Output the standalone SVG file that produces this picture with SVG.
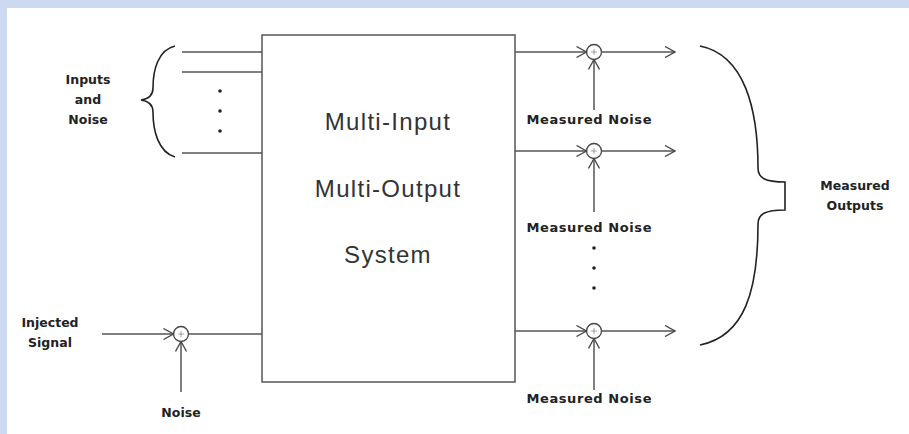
<svg xmlns="http://www.w3.org/2000/svg" width="909" height="434" viewBox="0 0 909 434">
<defs>
<style>
.ln{stroke:#555;stroke-width:1.5;fill:none}
.br{stroke:#222;stroke-width:1.6;fill:none}
.sum{stroke:#444;stroke-width:1.3;fill:#fff}
.plus{stroke:#888;stroke-width:0.8}
.lbl{font-family:"DejaVu Sans",Verdana,sans-serif;font-weight:bold;font-size:12.5px;fill:#222;text-anchor:middle}
.mn{font-size:13px}
.big{font-family:"Liberation Sans",Arial,sans-serif;font-size:24px;fill:#333;text-anchor:middle;letter-spacing:1.3px}
</style>
<marker id="ah" viewBox="0 0 12 12" refX="11" refY="6" markerWidth="12" markerHeight="12" markerUnits="userSpaceOnUse" orient="auto">
<path d="M1,0.5 L11,6 L1,11.5" fill="none" stroke="#444" stroke-width="1.3"/>
</marker>
</defs>
<rect width="909" height="434" fill="#cdd9f0"/>
<rect x="7" y="8" width="902" height="426" fill="#fff"/>

<g id="system">
<rect x="262" y="35" width="253" height="347" fill="#fff" stroke="#555" stroke-width="1.5"/>
<text class="big" x="388" y="130">Multi-Input</text>
<text class="big" x="388" y="197">Multi-Output</text>
<text class="big" x="388" y="263">System</text>
</g>

<g id="inputs">
<path class="br" d="M175,46 C158,50 153,70 153,88 C153,96 148,99 141,100 C148,101 153,104 153,112 C153,130 158,152 175,157"/>
<text class="lbl" x="88" y="84">Inputs</text>
<text class="lbl" x="88" y="104">and</text>
<text class="lbl" x="88" y="124">Noise</text>
<circle cx="220" cy="91" r="1.8" fill="#222"/>
<circle cx="220" cy="111" r="1.8" fill="#222"/>
<circle cx="220" cy="131" r="1.8" fill="#222"/>
</g>

<g id="injected">
<text class="lbl" x="50" y="327">Injected</text>
<text class="lbl" x="50" y="347">Signal</text>
<circle class="sum" cx="181" cy="334" r="7.5"/>
<path class="plus" d="M178,334 H184 M181,331 V337"/>
<text class="lbl" x="181" y="417">Noise</text>
</g>

<g id="sum1">
<circle class="sum" cx="594" cy="52" r="7.5"/>
<path class="plus" d="M591,52 H597 M594,49 V55"/>
<text class="lbl mn" x="589" y="124" textLength="125">Measured Noise</text>
</g>
<g id="sum2">
<circle class="sum" cx="594" cy="151" r="7.5"/>
<path class="plus" d="M591,151 H597 M594,148 V154"/>
<text class="lbl mn" x="589" y="232" textLength="125">Measured Noise</text>
</g>
<g id="sum3">
<circle class="sum" cx="594" cy="331" r="7.5"/>
<path class="plus" d="M591,331 H597 M594,328 V334"/>
<text class="lbl mn" x="589" y="403" textLength="125">Measured Noise</text>
</g>
<g id="dots-out">
<circle cx="594" cy="248" r="1.8" fill="#222"/>
<circle cx="594" cy="268" r="1.8" fill="#222"/>
<circle cx="594" cy="288" r="1.8" fill="#222"/>
</g>

<g id="outputs">
<path class="br" d="M700,46 C745,55 758,110 758,168 C758,178 765,182 785,182 L785,210 C765,210 758,214 758,224 C758,290 745,336 700,345"/>
<text class="lbl" x="855" y="190">Measured</text>
<text class="lbl" x="855" y="210">Outputs</text>
</g>

<g id="connectors">
<line class="ln" x1="182" y1="52" x2="262" y2="52"/>
<line class="ln" x1="182" y1="72" x2="262" y2="72"/>
<line class="ln" x1="182" y1="153" x2="262" y2="153"/>
<line class="ln" x1="102" y1="334" x2="173.5" y2="334" marker-end="url(#ah)"/>
<line class="ln" x1="188.5" y1="334" x2="262" y2="334"/>
<line class="ln" x1="181" y1="392" x2="181" y2="341.5" marker-end="url(#ah)"/>
<line class="ln" x1="515" y1="52" x2="586.5" y2="52" marker-end="url(#ah)"/>
<line class="ln" x1="601.5" y1="52" x2="675" y2="52" marker-end="url(#ah)"/>
<line class="ln" x1="594" y1="110" x2="594" y2="59.5" marker-end="url(#ah)"/>
<line class="ln" x1="515" y1="151" x2="586.5" y2="151" marker-end="url(#ah)"/>
<line class="ln" x1="601.5" y1="151" x2="675" y2="151" marker-end="url(#ah)"/>
<line class="ln" x1="594" y1="212" x2="594" y2="158.5" marker-end="url(#ah)"/>
<line class="ln" x1="515" y1="331" x2="586.5" y2="331" marker-end="url(#ah)"/>
<line class="ln" x1="601.5" y1="331" x2="675" y2="331" marker-end="url(#ah)"/>
<line class="ln" x1="594" y1="390" x2="594" y2="338.5" marker-end="url(#ah)"/>
</g>
</svg>
